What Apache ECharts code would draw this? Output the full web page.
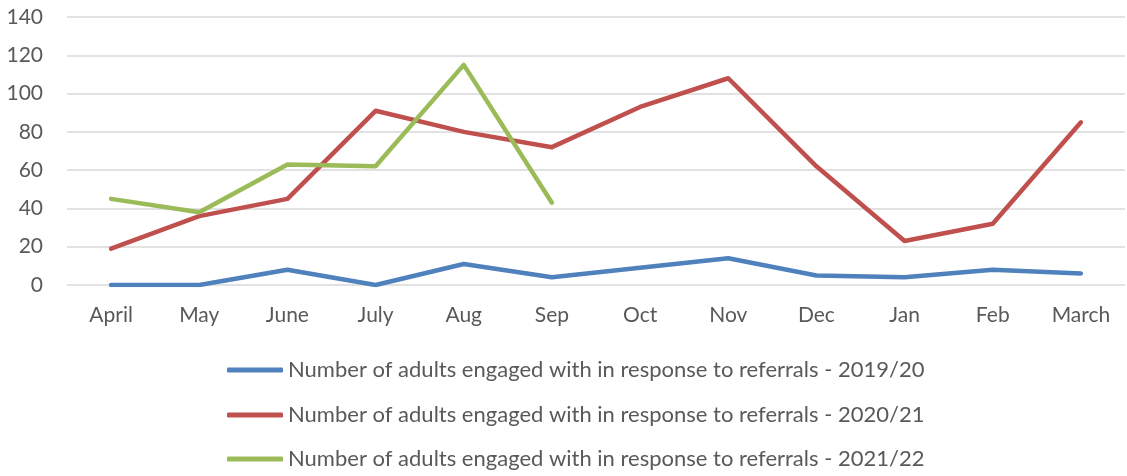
<!DOCTYPE html>
<html>
<head>
<meta charset="utf-8">
<script src="https://cdn.jsdelivr.net/npm/echarts@6/dist/echarts.min.js"></script>
<style>
html,body{margin:0;padding:0;background:#fff;}
#chart{width:1127px;height:476px;}
</style>
</head>
<body>
<div id="chart"></div>
<script>
const categories = ['April','May','June','July','Aug','Sep','Oct','Nov','Dec','Jan','Feb','March'];
const yTicks = [0, 20, 40, 60, 80, 100, 120, 140];
const seriesNames = [
  'Number of adults engaged with in response to referrals - 2019/20',
  'Number of adults engaged with in response to referrals - 2020/21',
  'Number of adults engaged with in response to referrals - 2021/22'
];
const values2019 = [0, 0, 8, 0, 11, 4, 9, 14, 5, 4, 8, 6];
const values2020 = [19, 36, 45, 91, 80, 72, 93, 108, 62, 23, 32, 85];
const values2021 = [45, 38, 63, 62, 115, 43, null, null, null, null, null, null];
const colors = ['#4F81BD', '#C0504D', '#9BBB59'];

const font = 'Lato, "Liberation Sans", sans-serif';
const chart = echarts.init(document.getElementById('chart'));
const mk = (name, data, color) => ({
  name, type: 'line', data, showSymbol: false, symbol: 'none',
  lineStyle: { color, width: 4.5, cap: 'round', join: 'round' },
  itemStyle: { color },
  connectNulls: false, animation: false
});
const legendTops = [355, 400, 444];
chart.setOption({
  animation: false,
  color: colors,
  grid: { left: 67, right: 2, top: 17, bottom: 191, containLabel: false },
  xAxis: {
    type: 'category', data: categories, boundaryGap: true,
    axisLine: { show: false }, axisTick: { show: false },
    axisLabel: { color: '#595959', fontSize: 21, fontFamily: font, margin: 20 }
  },
  yAxis: {
    type: 'value', min: yTicks[0], max: yTicks[yTicks.length - 1], interval: 20,
    axisLine: { show: false }, axisTick: { show: false },
    axisLabel: { color: '#595959', fontSize: 21, fontFamily: font, margin: 24 },
    splitLine: { lineStyle: { color: '#d9d9d9', width: 1.5 } }
  },
  legend: seriesNames.map((n, i) => ({
    orient: 'vertical', left: 227, top: legendTops[i], padding: 0,
    itemWidth: 56, itemHeight: 5,
    icon: 'roundRect',
    textStyle: { color: '#595959', fontSize: 22, fontFamily: font, lineHeight: 30 },
    data: [n]
  })),
  series: [
    mk(seriesNames[0], values2019, colors[0]),
    mk(seriesNames[1], values2020, colors[1]),
    mk(seriesNames[2], values2021, colors[2])
  ]
});
</script>
</body>
</html>
